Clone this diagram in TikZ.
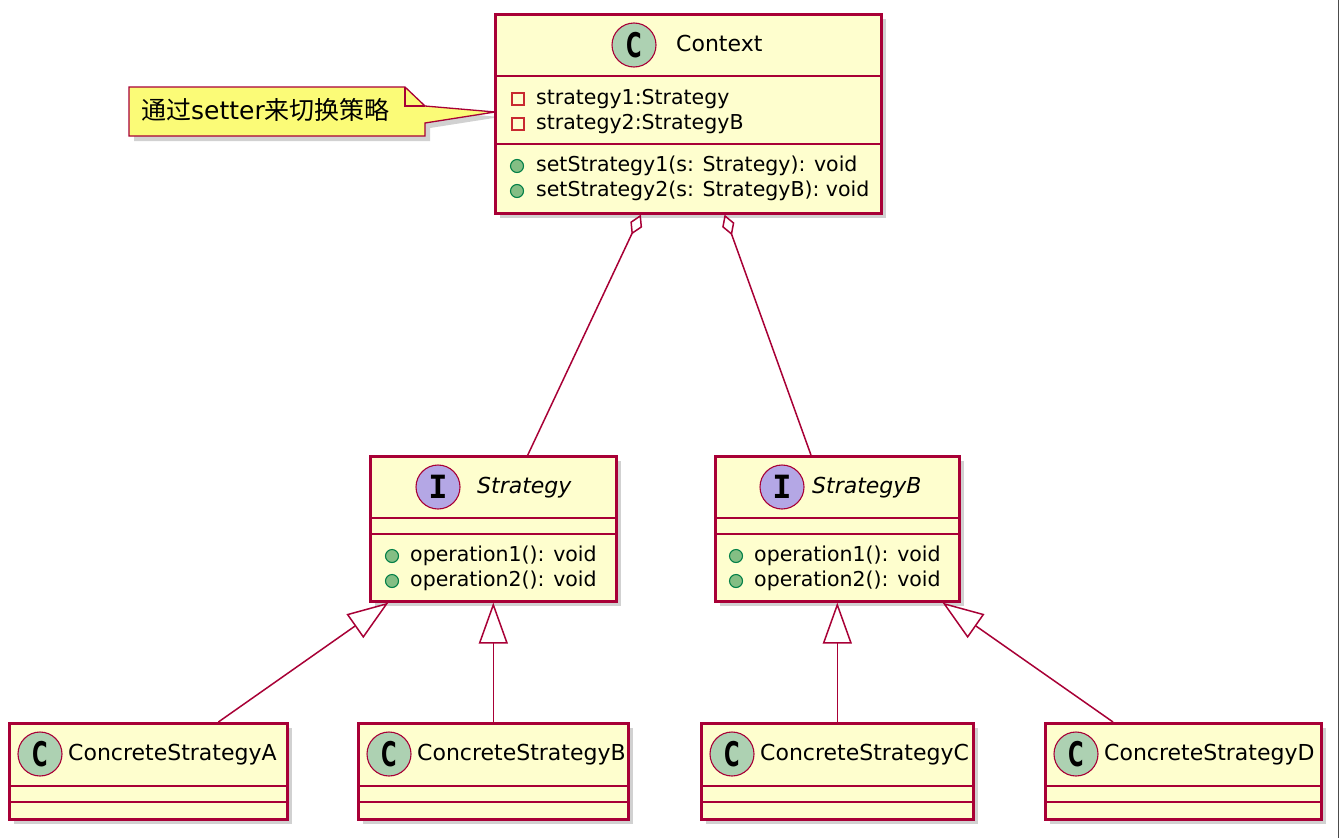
\documentclass[tikz,border=0pt]{standalone}
\usepackage{fontspec}
\usepackage{graphicx}
\setmainfont{DejaVu Sans}
\newfontfamily\cjkfont{Noto Sans CJK SC}
\newfontfamily\spotmono{DejaVu Sans Mono}
\usetikzlibrary{arrows.meta,shadows}
\definecolor{umlred}{HTML}{A80036}
\definecolor{umlfill}{HTML}{FEFECE}
\definecolor{spotgreen}{HTML}{ADD1B2}
\definecolor{spotviolet}{HTML}{B4A7E5}
\definecolor{notefill}{HTML}{FBFB77}
\definecolor{privred}{HTML}{C82930}
\definecolor{pubgreen}{HTML}{84BE84}
\definecolor{pubdark}{HTML}{038048}
\tikzset{
  classbox/.style={draw=umlred, fill=umlfill, line width=2.6pt, inner sep=0pt, anchor=north west,
    drop shadow={shadow xshift=5pt, shadow yshift=-5pt, fill=black!45, opacity=.4}},
  sepline/.style={draw=umlred, line width=2.6pt},
  spot/.style={circle, draw=umlred, line width=1.1pt, minimum size=44pt, inner sep=0pt},
  title/.style={anchor=west, inner sep=0pt, font=\fontsize{22}{26}\selectfont, text height=16pt, text depth=4pt},
  member/.style={anchor=west, inner sep=0pt, font=\fontsize{20.5}{24}\selectfont, text height=15.5pt, text depth=4.3pt},
  privmark/.style={draw=privred, line width=1.2pt, minimum size=12pt, inner sep=0pt},
  pubmark/.style={circle, draw=pubdark, fill=pubgreen, line width=1.1pt, minimum size=13pt, inner sep=0pt},
  link/.style={draw=umlred, line width=1.5pt},
}
\newcommand{\spotC}{{\bfseries\fontsize{34}{34}\selectfont\scalebox{0.62}[1]{C}}}
\newcommand{\spotI}{{\spotmono\bfseries\fontsize{32}{32}\selectfont I}}
\begin{document}
\begin{tikzpicture}[x=1pt,y=-1pt]
\fill[white] (0,0) rectangle (1340,838);
\useasboundingbox (0,0) rectangle (1340,838);
\draw[black!70, line width=1pt] (1338,0) -- (1338,838);

\fill[black!45, opacity=.4, shift={(5,5)}] (129,87) -- (405,87) -- (425,106) -- (495,112) -- (425,123) -- (425,136) -- (129,136) -- cycle;
\filldraw[fill=notefill, draw=umlred, line width=1.3pt] (129,87) -- (405,87) -- (425,106) -- (495,112) -- (425,123) -- (425,136) -- (129,136) -- cycle;
\draw[umlred, line width=1.3pt] (405,87) -- (405,106) -- (425,106);
\node[anchor=west, inner sep=0pt, font=\fontsize{25}{29}\selectfont, text height=18pt, text depth=4pt] (note) at (141,112) {{\cjkfont 通过}setter{\cjkfont 来切换策略}};

\node[classbox, minimum width=386pt, minimum height=199pt] (ctx) at (494,13) {};
\draw[sepline] (494,76) -- (880,76);
\draw[sepline] (494,144) -- (880,144);
\node[spot, fill=spotgreen] (ctxspot) at (634,45) {\spotC};
\node[title] (ctxname) at (676,45) {Context};
\node[privmark] (ctxm1) at (518,99) {};
\node[member] (ctxa1) at (536,99) {strategy1:Strategy};
\node[privmark] (ctxm2) at (518,124) {};
\node[member] (ctxa2) at (536,124) {strategy2:StrategyB};
\node[pubmark] (ctxm3) at (517,166) {};
\node[member] (ctxo1) at (536,166) {setStrategy1(s: Strategy): void};
\node[pubmark] (ctxm4) at (517,191) {};
\node[member] (ctxo2) at (536,191) {setStrategy2(s: StrategyB): void};

\node[classbox, minimum width=246pt, minimum height=145pt] (strat) at (369,455) {};
\draw[sepline] (369,518) -- (615,518);
\draw[sepline] (369,534) -- (615,534);
\node[spot, fill=spotviolet] (stratspot) at (438,487) {\spotI};
\node[title, font=\fontsize{22}{26}\selectfont\itshape] (stratname) at (477,487) {Strategy};
\node[pubmark] (stratm1) at (392,556) {};
\node[member] (strato1) at (410,556) {operation1(): void};
\node[pubmark] (stratm2) at (392,581) {};
\node[member] (strato2) at (410,581) {operation2(): void};

\node[classbox, minimum width=244pt, minimum height=145pt] (stratb) at (714,455) {};
\draw[sepline] (714,518) -- (958,518);
\draw[sepline] (714,534) -- (958,534);
\node[spot, fill=spotviolet] (stratbspot) at (782,487) {\spotI};
\node[title, font=\fontsize{22}{26}\selectfont\itshape] (stratbname) at (812,487) {StrategyB};
\node[pubmark] (stratbm1) at (736,556) {};
\node[member] (stratbo1) at (754,556) {operation1(): void};
\node[pubmark] (stratbm2) at (736,581) {};
\node[member] (stratbo2) at (754,581) {operation2(): void};

\foreach \name/\x/\w/\label [evaluate=\x as \sx using \x+32, evaluate=\x as \tx using \x+60] in {csa/8/278/ConcreteStrategyA, csb/357/270/ConcreteStrategyB, csc/700/272/ConcreteStrategyC, csd/1044/276/ConcreteStrategyD}{
  \node[classbox, minimum width=\w pt, minimum height=96pt] (\name) at (\x,722) {};
  \draw[sepline] (\x,786) -- ++(\w,0);
  \draw[sepline] (\x,802) -- ++(\w,0);
  \node[spot, fill=spotgreen] (\name spot) at (\sx,754) {\spotC};
  \node[title] (\name name) at (\tx,754) {\label};
}

\draw[link, {Diamond[fill=white, length=22pt, width=13pt]}-] (ctx) -- (strat);
\draw[link, {Diamond[fill=white, length=22pt, width=13pt]}-] (ctx) -- (stratb);
\draw[link, -{Triangle[fill=white, length=41pt, width=29pt]}] (csa) -- (strat);
\draw[link, -{Triangle[fill=white, length=41pt, width=29pt]}] (csb) -- (strat);
\draw[link, -{Triangle[fill=white, length=41pt, width=29pt]}] (csc) -- (stratb);
\draw[link, -{Triangle[fill=white, length=41pt, width=29pt]}] (csd) -- (stratb);
\end{tikzpicture}
\end{document}
